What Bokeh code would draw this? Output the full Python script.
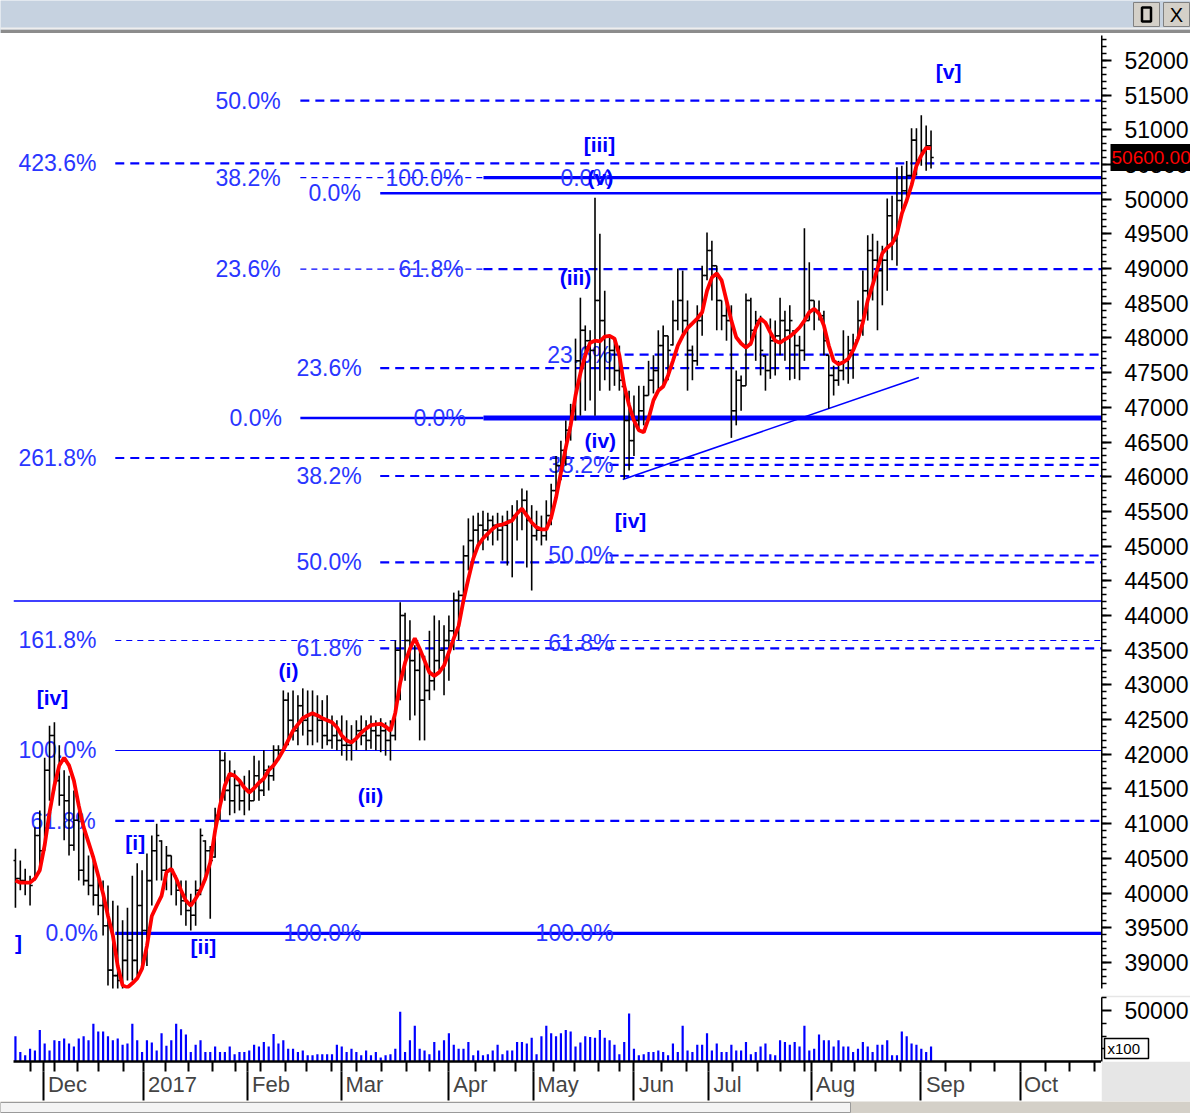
import numpy as np
from bokeh.plotting import figure
from bokeh.models import Range1d, LinearAxis, FixedTicker, ColumnDataSource
from bokeh.layouts import column, row
from bokeh.embed import file_html
from bokeh.resources import INLINE
from bokeh.core.properties import value

# ---------------- data (one entry per trading day) ----------------
HIGH = [40640, 40470, 40350, 40250, 40950, 41190, 41950, 42410, 42460, 42130,
        41770, 41690, 41480, 41260, 40900, 40540, 40470, 40250, 40180, 40110,
        39890, 39820, 39610, 39790, 40250, 40430, 40330, 40570, 40830, 41000,
        40760, 40680, 40540, 40250, 40180, 40180, 39990, 40180, 40930, 40760,
        40680, 41230, 42060, 42030, 41910, 41770, 41620, 41690, 41770, 41980,
        41910, 42060, 41840, 42130, 42130, 42920, 42890, 42920, 42850, 42950,
        42920, 42920, 42850, 42780, 42850, 42560, 42490, 42560, 42490, 42420,
        42490, 42560, 42490, 42560, 42490, 42520, 42460, 42490, 43640, 44190,
        44040, 43930, 43570, 43500, 43420, 43780, 44000, 43930, 43860, 44000,
        44330, 44360, 45010, 45400, 45440, 45480, 45510, 45480, 45440, 45480,
        45440, 45510, 45590, 45660, 45830, 45800, 45590, 45510, 45440, 45660,
        45900, 46300, 46520, 46810, 47050, 47990, 48580, 48180, 48110, 50020,
        49500, 48680, 48030, 47960, 47890, 47310, 47240, 47170, 47310, 47310,
        47670, 47750, 48110, 48180, 48030, 48540, 49000, 48970, 48540, 47890,
        48470, 49040, 49520, 49400, 49040, 48540, 48540, 48470, 47530, 47460,
        48640, 48580, 48390, 48320, 47750, 48280, 48250, 48580, 48390, 48470,
        48110, 48030, 49580, 49090, 48540, 48540, 48390, 47750, 47600, 47670,
        48110, 48030, 48060, 48540, 48970, 49480, 49500, 49400, 49330, 50010,
        50050, 50460, 50480, 50550, 51020, 51020, 51210, 51060, 50990]

LOW = [39790, 40040, 39970, 39820, 40180, 40330, 40610, 41330, 41480, 41260,
       40760, 40540, 40610, 40180, 40110, 39970, 39820, 39680, 39390, 38670,
       38500, 38450, 38500, 38740, 38740, 38810, 38880, 38950, 39820, 40180,
       40180, 40040, 39970, 39820, 39680, 39530, 39460, 39530, 39970, 40180,
       39630, 40510, 41050, 41330, 41120, 41150, 41190, 41120, 41190, 41330,
       41330, 41400, 41480, 41620, 41910, 42060, 42130, 42200, 42130, 42270,
       42130, 42130, 42170, 42080, 42130, 42080, 42060, 41980, 41910, 41910,
       42060, 42130, 42060, 42080, 42060, 42030, 41980, 41910, 42200, 42780,
       43060, 42490, 42560, 42200, 42200, 42780, 42920, 43210, 42850, 43060,
       43500, 43640, 44170, 44650, 44790, 45010, 44940, 45080, 45010, 45080,
       44790, 44720, 44550, 45080, 45230, 44690, 44360, 45080, 45010, 45080,
       45300, 45660, 45950, 46160, 46520, 46810, 46880, 46950, 47100, 46880,
       47240, 47390, 47240, 47310, 47240, 45970, 46090, 46300, 46670, 46740,
       47170, 47200, 47240, 47310, 47390, 47890, 48110, 48060, 47240, 47390,
       47600, 48030, 48830, 48540, 48110, 48110, 47960, 46560, 46740, 46950,
       47310, 47890, 47670, 47460, 47240, 47410, 47460, 47750, 47670, 47390,
       47410, 47390, 47670, 48250, 48110, 48250, 47750, 46980, 47170, 47310,
       47390, 47340, 47410, 47960, 48030, 48250, 48540, 48110, 48470, 48680,
       49120, 49040, 49840, 49980, 50310, 50340, 50480, 50410, 50440]

OPEN = [40470, 40210, 40180, 40150, 40200, 40830, 40610, 41770, 42270, 41620,
        41410, 41330, 40690, 41050, 40330, 40180, 40110, 39970, 39820, 39530,
        38890, 38810, 38740, 39030, 39320, 39030, 39820, 39460, 40180, 40610,
        40750, 40330, 40540, 40250, 40040, 39890, 39750, 39680, 40040, 40750,
        40610, 40520, 41120, 41910, 41480, 41330, 41550, 41330, 41480, 41330,
        41690, 41480, 41770, 41690, 42060, 42060, 42780, 42490, 42340, 42700,
        42490, 42340, 42560, 42490, 42270, 42200, 42270, 42200, 42130, 42130,
        42200, 42340, 42270, 42200, 42340, 42270, 42340, 42200, 42270, 43500,
        44000, 43640, 43350, 43210, 42780, 42920, 43060, 43350, 43500, 43640,
        43780, 44220, 44290, 44860, 45080, 45230, 45300, 45230, 45370, 45300,
        45230, 45300, 45370, 45440, 45510, 45660, 45370, 45150, 45230, 45150,
        45440, 45800, 46160, 46380, 46670, 46950, 47670, 48110, 47960, 47820,
        48540, 48250, 48030, 47820, 47530, 47300, 46810, 46520, 46810, 46950,
        47170, 47390, 47530, 47890, 48030, 47900, 48250, 48540, 48250, 47820,
        47670, 48250, 48900, 49260, 49040, 48540, 48320, 48250, 46950, 47390,
        47310, 48540, 48110, 48250, 47740, 47530, 47960, 48030, 48250, 48110,
        48100, 47890, 47820, 48250, 48540, 48390, 48320, 47750, 47460, 47390,
        47530, 47670, 47820, 47970, 48250, 48680, 49260, 49120, 48970, 49120,
        49760, 49400, 49980, 50120, 50340, 50850, 50560, 50700, 50770]

CLOSE = [40210, 40180, 40150, 40110, 40830, 40610, 41770, 42270, 41620, 41410,
         41330, 40690, 41050, 40330, 40180, 40110, 39970, 39820, 39530, 38890,
         38810, 38740, 39030, 39320, 39030, 39820, 39460, 40180, 40610, 40830,
         40330, 40540, 40330, 40040, 39890, 39750, 39680, 40040, 40830, 40610,
         40470, 41120, 41910, 41480, 41330, 41550, 41330, 41480, 41330, 41690,
         41480, 41770, 41690, 42060, 42060, 42780, 42490, 42340, 42700, 42490,
         42340, 42560, 42490, 42270, 42200, 42270, 42200, 42130, 42130, 42200,
         42340, 42270, 42200, 42340, 42270, 42340, 42200, 42270, 43500, 44000,
         43640, 43350, 43210, 42780, 42920, 43060, 43350, 43500, 43640, 43780,
         44220, 44290, 44860, 45080, 45230, 45300, 45230, 45370, 45300, 45230,
         45300, 45370, 45440, 45510, 45660, 45370, 45150, 45230, 45150, 45440,
         45800, 46160, 46380, 46670, 46950, 47670, 48110, 47960, 47820, 48540,
         48250, 48030, 47820, 47530, 47390, 46810, 46520, 46810, 46950, 47170,
         47390, 47530, 47890, 48030, 47820, 48250, 48540, 48250, 47820, 47670,
         48250, 48900, 49260, 49040, 48540, 48320, 48250, 46950, 47390, 47310,
         48540, 48110, 48250, 47820, 47530, 47960, 48030, 48250, 48110, 48250,
         47890, 47820, 48250, 48540, 48390, 48320, 47960, 47460, 47390, 47530,
         47670, 47820, 47890, 48250, 48680, 49260, 49120, 48970, 49120, 49760,
         49400, 49980, 50120, 50340, 50850, 50560, 50700, 50770, 50600]

MA = [40180, 40150, 40150, 40150, 40210, 40330, 40690, 41160, 41550, 41840,
      41950, 41840, 41620, 41260, 40950, 40730, 40510, 40250, 39990, 39670,
      39390, 38950, 38670, 38640, 38700, 38770, 38910, 39240, 39670, 39820,
      39960, 40300, 40350, 40210, 40040, 39890, 39820, 39920, 40040, 40210,
      40440, 40900, 41260, 41550, 41720, 41690, 41620, 41520, 41450, 41510,
      41590, 41650, 41770, 41840, 41940, 42060, 42200, 42340, 42430, 42520,
      42560, 42590, 42560, 42520, 42490, 42460, 42390, 42270, 42200, 42170,
      42230, 42310, 42370, 42420, 42430, 42440, 42400, 42340, 42600, 43030,
      43320, 43520, 43670, 43520, 43350, 43180, 43130, 43180, 43280, 43470,
      43670, 43850, 44220, 44530, 44820, 45010, 45110, 45180, 45250, 45300,
      45310, 45340, 45370, 45470, 45540, 45440, 45340, 45270, 45240, 45240,
      45410, 45700, 46060, 46420, 46740, 47170, 47490, 47750, 47930, 47960,
      47950, 48020, 48030, 47990, 47750, 47310, 47030, 46810, 46670, 46640,
      46840, 47100, 47240, 47300, 47460, 47670, 47890, 48030, 48140, 48210,
      48280, 48370, 48680, 48870, 48930, 48830, 48540, 48250, 48010, 47920,
      47860, 47920, 48140, 48280, 48220, 48080, 47960, 47930, 47980, 48020,
      48080, 48150, 48250, 48370, 48420, 48350, 48180, 47890, 47670, 47620,
      47650, 47700, 47820, 47990, 48220, 48540, 48760, 49000, 49220, 49300,
      49360, 49500, 49790, 49980, 50200, 50480, 50630, 50740, 50730]

VOLUME = [24800, 9300, 6200, 12400, 10900, 31000, 17700, 10900, 20800, 20200,
          22600, 17700, 14600, 22600, 24800, 20800, 36900, 29500, 29500, 24800,
          20800, 22600, 16400, 17700, 36900, 20800, 9300, 20800, 18600, 10900,
          27600, 15500, 20800, 36900, 31600, 26400, 9300, 16400, 20800, 9300,
          9300, 14600, 9300, 9300, 14600, 7100, 9300, 9300, 10900, 16400,
          14600, 19200, 14600, 27000, 17700, 20800, 12400, 12400, 9300, 10900,
          6200, 6200, 7100, 7100, 7100, 7100, 16400, 14600, 9300, 12400,
          9300, 6200, 10900, 6200, 9300, 4000, 6200, 7100, 12400, 48700,
          9300, 20800, 35000, 12400, 10900, 7100, 19200, 10900, 20800, 27600,
          16400, 12400, 12400, 19200, 6200, 10900, 6200, 7100, 10900, 16400,
          7100, 10900, 10900, 19200, 19200, 17700, 23300, 7100, 24800, 35000,
          27600, 24800, 27600, 31000, 29500, 14600, 18600, 24800, 23900, 23300,
          31000, 23300, 20800, 16400, 7100, 19200, 47100, 12400, 6200, 7100,
          9300, 9300, 10900, 9300, 6200, 17700, 9300, 35000, 10900, 9300,
          16400, 16400, 27600, 10900, 17700, 9300, 9300, 16400, 10900, 10900,
          19200, 7100, 9300, 14600, 17700, 7100, 6200, 20800, 19200, 16400,
          19200, 14600, 35000, 10900, 12400, 26400, 20800, 20800, 14600, 20800,
          14600, 14600, 9300, 12400, 19200, 14600, 9300, 16400, 16400, 20800,
          6200, 6200, 29500, 24800, 17700, 16400, 12400, 9300, 14600]

LAST_PRICE = 50600
LAST_PRICE_TEXT = "50600.00"

# price axis ticks
PRICE_TICKS = [39000, 39500, 40000, 40500, 41000, 41500, 42000, 42500, 43000,
               43500, 44000, 44500, 45000, 45500, 46000, 46500, 47000, 47500,
               48000, 48500, 49000, 49500, 50000, 50500, 51000, 51500, 52000]
VOL_TICKS = [50000]
VOL_MINOR = [12500, 25000, 37500, 62500]
VOL_UNIT = "x100"

# date axis (positions in trading-day index)
MONTH_LINES = [5.75, 26.28, 47.64, 66.94, 89.01, 106.47, 126.9, 142.3, 163.55, 185.93, 206.37]
MONTH_LABEL_POS = [10.68, 32.24, 52.46, 71.66, 93.43, 111.4, 131.6, 146.2, 168.4, 190.97, 210.6]
MONTH_NAMES = ["Dec", "2017", "Feb", "Mar", "Apr", "May", "Jun", "Jul", "Aug", "Sep", "Oct"]
WEEK_TICKS = [3.06, 8.01, 12.71, 17.13, 22.14, 30.72, 35.59, 40.37, 45.17, 50.35, 55.46,
              59.79, 64.89, 70.0, 75.11, 80.23, 84.93, 94.37, 98.29, 102.6, 110.47,
              114.78, 119.79, 123.96, 132.61, 137.72, 147.31, 152.4, 157.12, 162.07,
              167.58, 172.3, 176.61, 181.72, 191.0, 196.1, 200.97, 211.42, 216.53, 221.64]

# Fibonacci level lines: level, start day, end day
FIB_LEVEL = [51420, 50515, 50310, 50310, 50085, 48990, 48990, 47760, 47565, 46845, 46845,
             46270, 46170, 46010, 44865, 44765, 44210, 43640, 43525, 42055, 41040, 39420]
FIB_FROM = [58.5, 20.5, 58.5, 96.1, 74.9, 58.5, 96.1, 122.0, 74.9, 58.5, 96.1,
            20.5, 122.0, 74.9, 122.0, 74.9, -0.4, 20.5, 74.9, 20.5, 20.5, 20.5]
FIB_TO = [223.0, 223.0, 96.1, 223.0, 223.0, 96.1, 223.0, 223.0, 223.0, 96.1, 223.0,
          223.0, 223.0, 223.0, 223.0, 223.0, 223.0, 223.0, 223.0, 223.0, 223.0, 223.0]
FIB_KIND = ["dash2", "dash2", "dash1", "solid3", "solid2", "dash1", "dash2", "dash2", "dash2",
            "solid2", "solid5", "dash2", "dash2", "dash2", "dash2", "dash2", "solid15",
            "dash1", "dash2", "solid1", "dash2", "solid3"]

FIB_TEXT = ["50.0%", "423.6%", "38.2%", "0.0%", "23.6%", "23.6%", "0.0%", "261.8%",
            "38.2%", "50.0%", "161.8%", "61.8%", "100.0%", "61.8%", "0.0%", "100.0%",
            "100.0%", "0.0%", "61.8%", "23.6%", "0.0%", "38.2%", "50.0%", "61.8%", "100.0%"]
FIB_TEXT_X = [41.07, 0.62, 41.07, 60.16, 41.07, 57.7, 43.94, 0.62, 57.7, 57.7, 0.62,
              57.7, 0.62, 3.08, 6.16, 55.03, 75.98, 111.9, 78.64, 109.2, 81.72, 109.4,
              109.4, 109.4, 106.8]
FIB_TEXT_Y = [51420, 50515, 50310, 50085, 48990, 47565, 46845, 46270, 46010, 44765,
              43640, 43525, 42055, 41040, 39420, 39420, 50310, 50310, 48990, 47760,
              46845, 46170, 44865, 43600, 39420]

WAVE_TEXT = ["[v]", "[iii]", "(v)", "(iii)", "(iv)", "[iv]", "(i)", "[iv]", "(ii)", "[i]", "[ii]", "]"]
WAVE_X = [191.6, 119.9, 120.1, 115.0, 120.1, 126.3, 56.06, 7.6, 72.9, 24.6, 38.6, 0.62]
WAVE_Y = [51840, 50790, 50310, 48870, 46520, 45370, 43210, 42820, 41410, 40730, 39230, 39290]

TREND_X = [124.7, 185.5]
TREND_Y = [45960, 47430]

n = len(CLOSE)
for arr in (OPEN, HIGH, LOW, MA, VOLUME):
    assert len(arr) == n, (len(arr), n)

FONT = "Liberation Sans"
BLUE = "#0000FF"
FIB_BLUE = "#2A36FF"
W = 1190

x = np.arange(n, dtype=float)
xr = Range1d(-0.4, 223.0)
price_range = Range1d(38625, 52358)
vol_range = Range1d(0, 62750)


def plain(width, height, fill):
    f = figure(width=width, height=height, x_range=Range1d(0, width), y_range=Range1d(0, height),
               toolbar_location=None, output_backend="svg", x_axis_location=None,
               y_axis_location=None, min_border=0, background_fill_color=fill,
               border_fill_color=fill, outline_line_color=None)
    f.grid.visible = False
    return f


# ---------------- title bar ----------------
top = plain(W, 33, "#C6D2E0")
top.quad(left=[0], right=[W], bottom=[0], top=[4], fill_color="#8C8C8C", line_color=None)
top.quad(left=[0], right=[W], bottom=[4], top=[6], fill_color="#EEEEEE", line_color=None)
top.rect(x=[1146, 1176], y=[19, 19], width=26, height=24, fill_color="#D4D0C8", line_color="#808080")
top.rect(x=[1146], y=[19], width=9, height=14, fill_color=None, line_color="black", line_width=2.5)
top.text(x=[1176], y=[19], text=["X"], text_font=value(FONT), text_font_size="20px",
         text_align="center", text_baseline="middle", text_color="black")


def style_price_axis(ax, ticks, minor, standoff):
    ax.ticker = FixedTicker(ticks=ticks, minor_ticks=minor)
    ax.major_tick_out = 0
    ax.major_tick_in = 10
    ax.minor_tick_out = 0
    ax.minor_tick_in = 5
    ax.axis_line_width = 2
    ax.major_tick_line_width = 2
    ax.minor_tick_line_width = 1.5
    ax.major_label_text_font = FONT
    ax.major_label_text_font_size = "23px"
    ax.major_label_text_color = "black"
    ax.major_label_standoff = standoff


# ---------------- price panel ----------------
p = figure(frame_width=1088, frame_height=953, x_range=xr, y_range=price_range,
           toolbar_location=None, output_backend="svg", x_axis_location=None,
           y_axis_location=None, min_border_left=13, min_border_top=2,
           min_border_bottom=2, min_border_right=0, outline_line_color=None,
           background_fill_color="white")
p.grid.visible = False

STYLES = {
    "dash2": dict(line_width=2.2, line_dash="9 6"),
    "dash1": dict(line_width=1.2, line_dash="6 5"),
    "solid1": dict(line_width=1.2),
    "solid15": dict(line_width=1.6),
    "solid2": dict(line_width=2.5),
    "solid3": dict(line_width=3.2),
    "solid5": dict(line_width=5),
}
for lvl, a, b, k in zip(FIB_LEVEL, FIB_FROM, FIB_TO, FIB_KIND):
    p.segment(x0=[a], y0=[lvl], x1=[b], y1=[lvl], line_color=BLUE, **STYLES[k])

p.line(TREND_X, TREND_Y, line_color=BLUE, line_width=1.6)

p.text(x=FIB_TEXT_X, y=FIB_TEXT_Y, text=FIB_TEXT, text_font=value(FONT),
       text_font_size="23px", text_color=FIB_BLUE, text_align="left", text_baseline="middle")

src = ColumnDataSource(dict(x=x, xl=x - 0.55, xr=x + 0.55, o=OPEN, h=HIGH, l=LOW, c=CLOSE))
p.segment(x0="x", y0="l", x1="x", y1="h", source=src, line_color="black", line_width=1.6)
p.segment(x0="xl", y0="o", x1="x", y1="o", source=src, line_color="black", line_width=1.6)
p.segment(x0="x", y0="c", x1="xr", y1="c", source=src, line_color="black", line_width=1.6)

p.line(x, MA, line_color="#FF0000", line_width=3.8)

p.text(x=WAVE_X, y=WAVE_Y, text=WAVE_TEXT, text_font=value(FONT), text_font_size="21px",
       text_font_style="bold", text_color=BLUE, text_align="center", text_baseline="middle")

# price scale (axis on the left edge of a narrow strip, labels pulled into the strip)
pax = figure(frame_width=W - 1101, frame_height=953, x_range=Range1d(0, W - 1101),
             y_range=price_range, toolbar_location=None, output_backend="svg",
             x_axis_location=None, y_axis_location="left", min_border_left=0,
             min_border_right=0, min_border_top=2, min_border_bottom=2,
             outline_line_color=None)
pax.grid.visible = False
style_price_axis(pax.yaxis[0], PRICE_TICKS, list(range(38700, 52400, 100)), -87)
pax.quad(left=[9], right=[W - 1101], bottom=[LAST_PRICE - 195], top=[LAST_PRICE + 195],
         fill_color="black", line_color=None, level="overlay")
pax.text(x=[10], y=[LAST_PRICE], text=[LAST_PRICE_TEXT], text_font=value(FONT),
         text_font_size="19px", text_color="#FF0000", text_align="left",
         text_baseline="middle", level="overlay")

# ---------------- separator ----------------
sep = plain(W, 5, "#9A9A9A")

# ---------------- volume panel ----------------
v = figure(frame_width=1088, frame_height=64, x_range=xr, y_range=vol_range,
           toolbar_location=None, output_backend="svg", x_axis_location=None,
           y_axis_location=None, min_border_left=13, min_border_top=2,
           min_border_bottom=40, min_border_right=0, outline_line_color=None)
v.grid.visible = False
v.vbar(x=x, top=VOLUME, width=0.45, fill_color=BLUE, line_color=None)

axA = LinearAxis(ticker=FixedTicker(ticks=sorted(WEEK_TICKS + MONTH_LINES), minor_ticks=[]),
                 major_tick_out=10, major_tick_in=0, major_tick_line_width=2,
                 axis_line_width=2.5, major_label_text_font_size="0px",
                 major_label_standoff=0, major_label_text_color=None)
v.add_layout(axA, "below")

axB = LinearAxis(ticker=FixedTicker(ticks=MONTH_LABEL_POS, minor_ticks=MONTH_LINES),
                 major_tick_out=0, major_tick_in=0, minor_tick_out=29, minor_tick_in=0,
                 minor_tick_line_width=2, axis_line_color=None,
                 major_label_overrides={pos: name for pos, name in zip(MONTH_LABEL_POS, MONTH_NAMES)},
                 major_label_text_font=FONT, major_label_text_font_size="22px",
                 major_label_standoff=-29)
v.add_layout(axB, "below")

vax = figure(frame_width=W - 1101, frame_height=64, x_range=Range1d(0, W - 1101),
             y_range=vol_range, toolbar_location=None, output_backend="svg",
             x_axis_location=None, y_axis_location="left", min_border_left=0,
             min_border_right=0, min_border_top=2, min_border_bottom=40,
             outline_line_color=None, border_fill_color="#E6E6E6",
             background_fill_color="white")
vax.grid.visible = False
style_price_axis(vax.yaxis[0], VOL_TICKS, VOL_MINOR, -87)
vax.quad(left=[3], right=[47], bottom=[2900], top=[22500], fill_color="white",
         line_color="black", line_width=1.5, level="overlay")
vax.text(x=[6], y=[12700], text=[VOL_UNIT], text_font=value(FONT), text_font_size="15px",
         text_color="black", text_align="left", text_baseline="middle", level="overlay")

bottom = plain(W, 12, "#D4D0C8")
bottom.quad(left=[0], right=[850], bottom=[1], top=[11], fill_color="#F4F4F4", line_color="#9A9A9A")

layout = column(top, row(p, pax), sep, row(v, vax), bottom)
open("out.html", "w").write(file_html(layout, INLINE))
